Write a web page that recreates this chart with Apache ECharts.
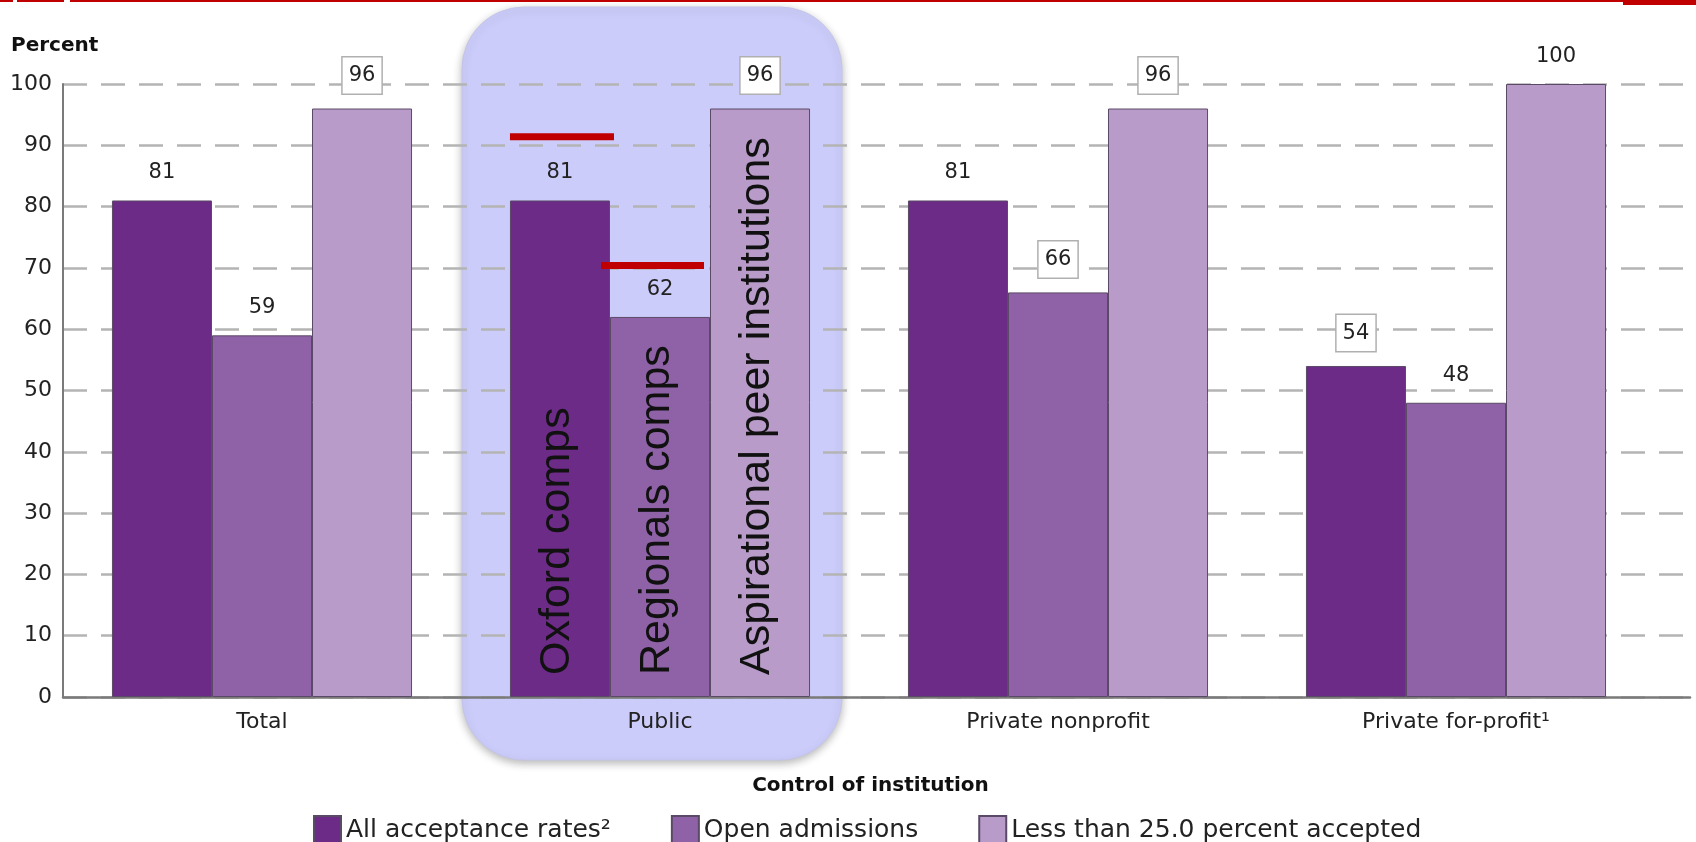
<!DOCTYPE html>
<html>
<head>
<meta charset="utf-8">
<script src="https://cdn.jsdelivr.net/npm/echarts@6/dist/echarts.min.js"></script>
<style>
html,body{margin:0;padding:0;background:#fff;}
#chart{width:1696px;height:842px;}
</style>
</head>
<body>
<div id="chart"></div>
<script>
// ---- data ----
const categories = ['Total', 'Public', 'Private nonprofit', 'Private for-profit\u00B9'];
const seriesNames = ['All acceptance rates\u00B2', 'Open admissions', 'Less than 25.0 percent accepted'];
const allAcceptance = [81, 81, 81, 54];
const openAdmissions = [59, 62, 66, 48];
const lessThan25 = [96, 96, 96, 100];
const yTicks = [0, 10, 20, 30, 40, 50, 60, 70, 80, 90, 100];
// boxed value labels: [seriesIndex, categoryIndex]
const boxedLabels = [[2, 0], [2, 1], [2, 2], [1, 2], [0, 3]];
// annotations on the highlighted category
const highlightCategory = 1;
const barNotes = ['Oxford comps', 'Regionals comps', 'Aspirational peer institutions'];
const benchmarkBars = [0, 1];
const benchmarkValues = [91.4, 70.4];

const colors = ['#6d2b88', '#8f62a8', '#b89bc9'];
const seriesData = [allAcceptance, openAdmissions, lessThan25];

const chart = echarts.init(document.getElementById('chart'), null, {renderer: 'canvas'});

const labelFont = 'DejaVu Sans';

function buildData(si) {
  return seriesData[si].map((v, ci) => {
    const boxed = boxedLabels.some(b => b[0] === si && b[1] === ci);
    if (!boxed) return v;
    return {
      value: v,
      label: {
        backgroundColor: '#ffffff',
        borderColor: '#b0b0b0',
        borderWidth: 1.5,
        padding: [8, 6, 7, 6],
        distance: 15
      }
    };
  });
}

const series = seriesNames.map((name, si) => ({
  name: name,
  type: 'bar',
  xAxisIndex: 1,
  yAxisIndex: 1,
  barGap: '0%',
  barCategoryGap: '24.6%',
  data: buildData(si),
  itemStyle: {color: colors[si], borderColor: '#5b4a66', borderWidth: 1},
  label: {
    show: true,
    position: 'top',
    distance: 17,
    fontFamily: labelFont,
    fontSize: 21,
    color: '#222'
  },
  z: 3
}));

const option = {
  backgroundColor: '#ffffff',
  animation: false,
  title: {
    text: 'Percent',
    left: 11,
    top: 36,
    padding: 0,
    textStyle: {fontFamily: labelFont, fontWeight: 'bold', fontSize: 20, color: '#111'}
  },
  legend: {
    data: seriesNames,
    left: 308,
    top: 810,
    itemWidth: 27,
    itemHeight: 28,
    itemGap: 60,
    icon: 'rect',
    textStyle: {fontFamily: labelFont, fontSize: 25, color: '#222', padding: [0, 0, 0, 0]}
  },
  grid: [
    {left: 63, right: 6, top: 84, bottom: 145, containLabel: false},
    {left: 63, right: 41, top: 84, bottom: 145, containLabel: false}
  ],
  xAxis: [
    {
      type: 'category', gridIndex: 0, data: [''],
      axisLine: {show: true, lineStyle: {color: '#7a7a7a', width: 2.5}},
      axisTick: {show: false}, axisLabel: {show: false}, splitLine: {show: false},
      name: 'Control of institution', nameLocation: 'middle', nameGap: 79,
      nameTextStyle: {fontFamily: labelFont, fontWeight: 'bold', fontSize: 20, color: '#111', padding: [0, 12, 0, 0]}
    },
    {
      type: 'category', gridIndex: 1, data: categories,
      axisLine: {show: false}, axisTick: {show: false}, splitLine: {show: false},
      axisLabel: {fontFamily: labelFont, fontSize: 22, color: '#222', margin: 14}
    }
  ],
  yAxis: [
    {
      type: 'value', gridIndex: 0, min: yTicks[0], max: yTicks[yTicks.length - 1], interval: 10,
      axisLine: {show: true, lineStyle: {color: '#7a7a7a', width: 2}},
      axisTick: {show: false},
      axisLabel: {fontFamily: labelFont, fontSize: 22, color: '#222', margin: 11},
      splitLine: {show: true, lineStyle: {color: '#b4b4b4', width: 2.5, type: [24, 14]}}
    },
    {
      type: 'value', gridIndex: 1, min: yTicks[0], max: yTicks[yTicks.length - 1], interval: 10,
      show: false, splitLine: {show: false}
    }
  ],
  series: series
};

chart.setOption(option);

// ---- annotations positioned through the chart's own scales ----
const c0 = chart.convertToPixel({gridIndex: 1}, [0, 0]);
const c1 = chart.convertToPixel({gridIndex: 1}, [1, 0]);
const catWidth = c1[0] - c0[0];
const barW = catWidth * (1 - 0.246) / 3;
const hlCenter = chart.convertToPixel({gridIndex: 1}, [highlightCategory, 0]);
const baseY = hlCenter[1];

const graphics = [];
// slide decoration: red rule on top
graphics.push({type: 'rect', shape: {x: 0, y: 0, width: 1696, height: 2}, style: {fill: '#c00000'}, z: 50});
graphics.push({type: 'rect', shape: {x: 1623, y: 0, width: 73, height: 5}, style: {fill: '#c00000'}, z: 50});
graphics.push({type: 'rect', shape: {x: 13, y: 0, width: 4, height: 2}, style: {fill: '#ffffff'}, z: 51});
graphics.push({type: 'rect', shape: {x: 64, y: 0, width: 6, height: 2}, style: {fill: '#ffffff'}, z: 51});

// highlight box around the Public group
graphics.push({
  type: 'rect',
  shape: {x: hlCenter[0] - catWidth / 2 + 1, y: 7, width: catWidth - 18, height: 753, r: 62},
  style: {fill: '#ccccfa', stroke: '#c4c4ea', lineWidth: 1, shadowBlur: 8, shadowColor: 'rgba(0,0,0,0.28)', shadowOffsetY: 3},
  z: -10
});

// rotated notes inside bars
barNotes.forEach((txt, i) => {
  const cx = hlCenter[0] + (i - 1) * barW;
  graphics.push({
    type: 'text',
    x: cx - 3, y: baseY - 22,
    rotation: Math.PI / 2,
    style: {text: txt, fontFamily: 'Liberation Sans', fontSize: 43, fill: '#111', align: 'left', verticalAlign: 'middle'},
    z: 100
  });
});

// red benchmark lines
const benchShift = [[0, 4], [-9, -6]];
benchmarkBars.forEach((bi, k) => {
  const cx = hlCenter[0] + (bi - 1) * barW;
  const py = chart.convertToPixel({gridIndex: 1}, [highlightCategory, benchmarkValues[k]])[1];
  graphics.push({
    type: 'line',
    shape: {x1: cx - barW / 2 + benchShift[k][0], y1: py, x2: cx + barW / 2 + benchShift[k][1], y2: py},
    style: {stroke: '#c00000', lineWidth: 7},
    z: 100
  });
});

chart.setOption({graphic: {elements: graphics}});
</script>
</body>
</html>
